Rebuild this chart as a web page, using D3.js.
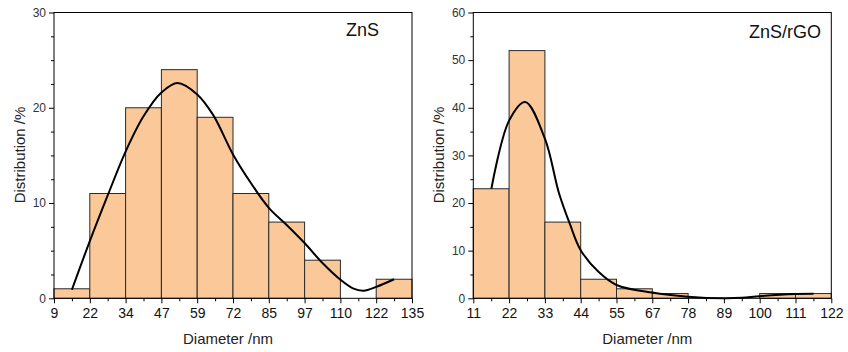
<!DOCTYPE html>
<html><head><meta charset="utf-8">
<script src="https://cdn.jsdelivr.net/npm/d3@7"></script>
<style>body{margin:0;background:#fff}svg{display:block;font-family:"Liberation Sans",Arial,sans-serif}</style>
</head><body><svg id="c" width="848" height="352"></svg>
<script>
// ---- data ----
const znsTicks = [9,22,34,47,59,72,85,97,110,122,135];
const znsBinStart = 9, znsBinWidth = 12.6;
const znsValues = [1,11,20,24,19,11,8,4,0,2];
const znsCurveX = [15.3,21.6,27.9,34.2,40.5,46.8,52.5,59.4,65.1,72,78.3,84.6,90.9,97.2,103.5,109.8,114.2,118,122.4,128.7];
const znsCurveY = [0.9,6.0,10.8,15.4,19.1,21.6,22.6,21.4,19.2,15.1,12.1,9.5,7.7,5.8,3.7,1.95,1.05,0.8,1.2,2.0];
const znsYTicks = [0,10,20,30];

const rgoTicks = [11,22,33,44,55,67,78,89,100,111,122];
const rgoBinStart = 11, rgoBinWidth = 11.1;
const rgoValues = [23,52,16,4,2,1,0,0,1,1];
const rgoCurveX = [16.6,22.1,27.1,33.2,37.6,41.0,44.3,49.9,55.4,66.5,77.6,88.7,94.3,99.8,110.9,116.5];
const rgoCurveY = [23,37.3,41.2,33.5,22,15.5,10.1,5.5,2.8,1.2,0.35,0.0,0.1,0.45,0.9,0.95];
const rgoYTicks = [0,10,20,30,40,50,60];

const svg = d3.select("#c");

function panel(o){
  const g = svg.append("g");
  const x = d3.scaleLinear().domain([o.ticks[0], o.ticks[o.ticks.length-1]]).range([o.x0, o.x1]);
  const y = d3.scaleLinear().domain([0, o.yMax]).range([298.3, 12.5]);
  // bars
  g.selectAll("rect.bar").data(o.values).enter().append("rect")
    .attr("x", (d,i)=>x(o.binStart + i*o.binWidth))
    .attr("width", (d,i)=>x(o.binStart + (i+1)*o.binWidth) - x(o.binStart + i*o.binWidth))
    .attr("y", d=>y(d))
    .attr("height", d=>y(0)-y(d))
    .attr("fill", "#fbc899").attr("stroke", "#2a2a2a").attr("stroke-width", 1)
    .style("display", d=> d>0 ? null : "none");
  // curve
  const pts = o.cx.map((v,i)=>[v, o.cy[i]]);
  g.append("path").datum(pts)
    .attr("d", d3.line().x(d=>x(d[0])).y(d=>y(d[1])).curve(d3.curveCatmullRom.alpha(0.5)))
    .attr("fill","none").attr("stroke","#000").attr("stroke-width",2);
  // frame
  g.append("rect").attr("x", o.x0).attr("y", y(o.yMax)).attr("width", o.x1-o.x0).attr("height", y(0)-y(o.yMax))
    .attr("fill","none").attr("stroke","#000").attr("stroke-width",1);
  // x axis
  const xa = g.append("g").attr("transform", `translate(0,${y(0)})`)
    .call(d3.axisBottom(x).tickValues(o.ticks.map((t,i)=>o.binStart+i*o.binWidth)).tickFormat((d,i)=>o.ticks[i]).tickSizeOuter(0).tickSize(5).tickPadding(5));
  xa.select(".domain").remove();
  xa.selectAll("text").attr("font-size", 14).attr("fill","#111").attr("font-family","Liberation Sans, Arial, sans-serif");
  const xm = g.append("g").attr("transform", `translate(0,${y(0)})`)
    .call(d3.axisBottom(x).tickValues(o.values.map((v,i)=>o.binStart+(i+0.5)*o.binWidth)).tickFormat("").tickSize(3).tickSizeOuter(0));
  xm.select(".domain").remove();
  // y axis
  const ya = g.append("g").attr("transform", `translate(${o.x0},0)`)
    .call(d3.axisLeft(y).tickValues(o.yTicks).tickSize(5).tickPadding(3).tickSizeOuter(0));
  ya.select(".domain").remove();
  ya.selectAll("text").attr("font-size", 12).attr("fill","#333").attr("font-family","Liberation Sans, Arial, sans-serif");
  const ym = g.append("g").attr("transform", `translate(${o.x0},0)`)
    .call(d3.axisLeft(y).tickValues(d3.range(0, o.yMax, o.minor).filter(v=>o.yTicks.indexOf(v)<0)).tickFormat("").tickSize(3).tickSizeOuter(0));
  ym.select(".domain").remove();
  // titles
  g.append("text").attr("x", (o.x0+o.x1)/2 - 5).attr("y", 344).attr("text-anchor","middle")
    .attr("font-size", 15).attr("fill","#222").text("Diameter /nm");
  g.append("text").attr("transform", `translate(${o.ytx},155) rotate(-90)`).attr("text-anchor","middle")
    .attr("font-size", 15).attr("fill","#222").text("Distribution /%");
  g.append("text").attr("x", o.lx).attr("y", o.ly).attr("text-anchor","end")
    .attr("font-size", 18).attr("fill","#111").text(o.label);
}

panel({ticks:znsTicks, binStart:znsBinStart, binWidth:znsBinWidth, values:znsValues, cx:znsCurveX, cy:znsCurveY,
  yTicks:znsYTicks, yMax:30, minor:2.5, x0:54, x1:412, ytx:25, label:"ZnS", lx:379, ly:36});
panel({ticks:rgoTicks, binStart:rgoBinStart, binWidth:rgoBinWidth, values:rgoValues, cx:rgoCurveX, cy:rgoCurveY,
  yTicks:rgoYTicks, yMax:60, minor:5, x0:473.3, x1:831.3, ytx:444, label:"ZnS/rGO", lx:821, ly:38});
</script></body></html>
